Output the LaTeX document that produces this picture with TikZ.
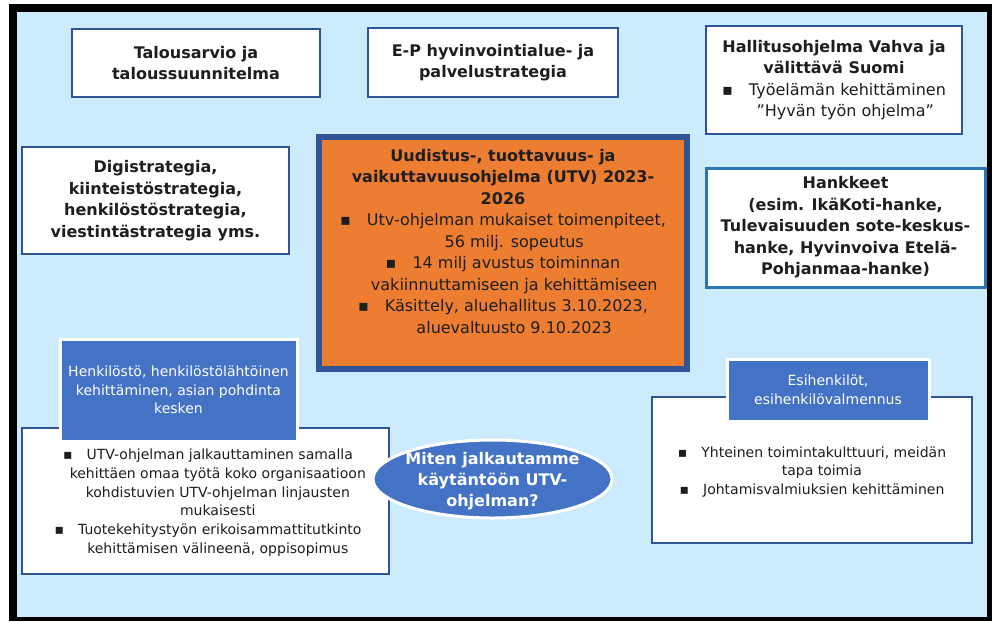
\documentclass[tikz,border=0pt]{standalone}
\usepackage{fontspec}
\setmainfont{DejaVu Sans}
\usetikzlibrary{shapes.geometric}
\definecolor{bgblue}{HTML}{CCEBFD}
\definecolor{bordblue}{HTML}{2F5597}
\definecolor{hdrblue}{HTML}{4472C4}
\definecolor{orng}{HTML}{ED7D31}
\definecolor{hkblue}{HTML}{2E75B6}
\definecolor{txt}{HTML}{1E1E1E}
\newcommand{\bul}{▪\hspace{1em}}
\newcommand{\cont}{\hspace*{1.4em}}
\begin{document}
\begin{tikzpicture}[x=1pt,y=-1pt,
  wbox/.style={draw=bordblue, line width=2pt, fill=white, align=center, inner sep=0pt, text=txt},
  big/.style={font=\fontsize{16}{21.5}\selectfont},
  bigb/.style={font=\bfseries\fontsize{16}{21.5}\selectfont},
  small/.style={font=\fontsize{14}{18.7}\selectfont},
  hdr/.style={draw=white, line width=3pt, fill=hdrblue, inner sep=0pt, text=white, align=center, font=\fontsize{14}{18.7}\selectfont},
  plain/.style={align=center, inner sep=0pt, text=txt}]
\useasboundingbox (0,0) rectangle (992,621);
\fill[white] (0,0) rectangle (992,621);
\fill[black] (9,4) rectangle (992,621);
\fill[bgblue] (17,12) rectangle (987,617);

% top row
\node[wbox, bigb, minimum width=248, minimum height=68] (tal) at (196,63) {Talousarvio ja\\taloussuunnitelma};
\node[wbox, bigb, minimum width=250, minimum height=69] (ep) at (493,62.5) {E-P hyvinvointialue- ja\\palvelustrategia};
\node[wbox, big, minimum width=256, minimum height=108] (hal) at (834,80) {\textbf{Hallitusohjelma Vahva ja}\\\textbf{välittävä Suomi}\\\bul Työelämän kehittäminen\\\cont ”Hyvän työn ohjelma”};

% middle row
\node[wbox, bigb, minimum width=267, minimum height=107] (dig) at (155.5,200.5) {Digistrategia,\\kiinteistöstrategia,\\henkilöstöstrategia,\\viestintästrategia yms.};
\node[draw=bordblue, line width=6pt, fill=orng, minimum width=368, minimum height=232, inner sep=0pt] (utv) at (503,253) {};
\node[plain, big] (utvtxt) at (503,241.5) {\textbf{Uudistus-, tuottavuus- ja}\\
\textbf{vaikuttavuusohjelma (UTV) 2023-}\\
\textbf{2026}\\
\bul Utv-ohjelman mukaiset toimenpiteet,\\
\cont 56 milj. sopeutus\\
\bul 14 milj avustus toiminnan\\
\cont vakiinnuttamiseen ja kehittämiseen\\
\bul Käsittely, aluehallitus 3.10.2023,\\
\cont aluevaltuusto 9.10.2023};
\node[wbox, draw=hkblue, line width=3pt, bigb, minimum width=279, minimum height=119] (han) at (845.5,227.5) {Hankkeet\\(esim. IkäKoti-hanke,\\Tulevaisuuden sote-keskus-\\hanke, Hyvinvoiva Etelä-\\Pohjanmaa-hanke)};

% bottom left
\node[wbox, minimum width=367, minimum height=146] (lbox) at (205.5,501) {};
\node[plain, small] (ltxt) at (208,502.5) {\bul UTV-ohjelman jalkauttaminen samalla\\
\cont kehittäen omaa työtä koko organisaatioon\\
\cont kohdistuvien UTV-ohjelman linjausten\\
\cont mukaisesti\\
\bul Tuotekehitystyön erikoisammattitutkinto\\
\cont kehittämisen välineenä, oppisopimus};
\node[hdr, minimum width=237, minimum height=102] (lhdr) at (178.5,390) {Henkilöstö, henkilöstölähtöinen\\kehittäminen, asian pohdinta\\kesken};

% bottom right
\node[wbox, minimum width=320, minimum height=146] (rbox) at (812,470) {};
\node[plain, small] (rtxt) at (812,472) {\bul Yhteinen toimintakulttuuri, meidän\\
\cont tapa toimia\\
\bul Johtamisvalmiuksien kehittäminen};
\node[hdr, minimum width=202, minimum height=62] (rhdr) at (828,390) {Esihenkilöt,\\esihenkilövalmennus};

% ellipse
\node[ellipse, draw=white, line width=3pt, fill=hdrblue, minimum width=239, minimum height=78, inner sep=0pt] (q) at (492.5,479) {};
\node[align=center, inner sep=0pt, text=white, font=\bfseries\fontsize{16}{21}\selectfont] (qtxt) at (492.5,481) {Miten jalkautamme\\käytäntöön UTV-\\ohjelman?};
\end{tikzpicture}
\end{document}
